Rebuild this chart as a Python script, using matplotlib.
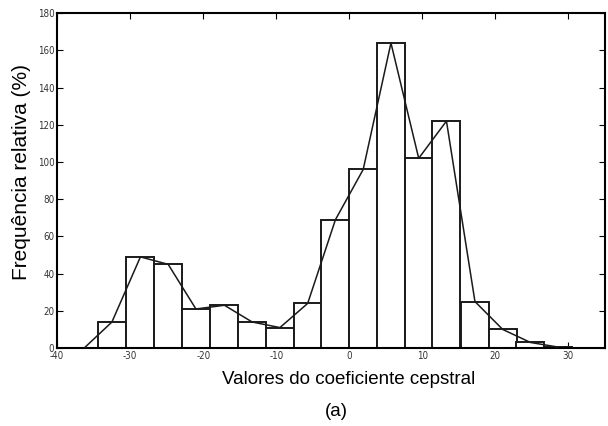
import numpy as np
import matplotlib
matplotlib.use('Agg')
import matplotlib.pyplot as plt

# histogram of cepstral coefficient values
centros = [-36.3, -32.5, -28.6, -24.8, -21.0, -17.1, -13.3, -9.5, -5.7, -1.9,
           1.9, 5.7, 9.5, 13.3, 17.2, 21.0, 24.8, 28.6]
freq = [0, 14, 49, 45, 21, 23, 14, 11, 24, 69,
        96, 164, 102, 122, 25, 10, 3, 0.5]
largura = 3.83

xticks = [-40, -30, -20, -10, 0, 10, 20, 30]
yticks = [0, 20, 40, 60, 80, 100, 120, 140, 160, 180]

plt.rcParams['font.family'] = ['Liberation Sans', 'DejaVu Sans']
plt.rcParams['axes.unicode_minus'] = False

fig = plt.figure(figsize=(6.08, 4.26), dpi=100)
ax = fig.add_axes([0.094, 0.183, 0.901, 0.786])

ax.bar(centros, freq, width=largura, color='white', edgecolor='#1a1a1a', linewidth=1.4, zorder=2)
ax.plot(centros, freq, color='#1a1a1a', linewidth=1.1, zorder=3)

ax.set_xlim(-40, 35)
ax.set_ylim(0, 180)
ax.set_xticks(xticks)
ax.set_yticks(yticks)
ax.tick_params(direction='in', top=True, right=True, length=4, width=0.8, labelsize=7, pad=2)
for lab in ax.get_xticklabels() + ax.get_yticklabels():
    lab.set_family(['Liberation Sans Narrow', 'DejaVu Sans'])
    lab.set_stretch('condensed')
    lab.set_color('#333333')
for s in ax.spines.values():
    s.set_linewidth(1.5)

fig.text(0.574, 0.110, 'Valores do coeficiente cepstral', ha='center', va='center', fontsize=13.5)
fig.text(0.036, 0.596, 'Frequência relativa (%)', ha='center', va='center', rotation=90, fontsize=15)
fig.text(0.554, 0.033, '(a)', ha='center', va='center', fontsize=13.5)

plt.savefig('out.png', dpi=100)
